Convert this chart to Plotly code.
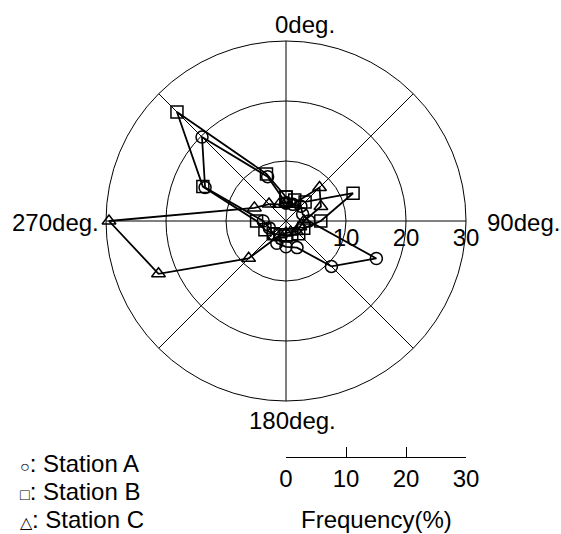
import plotly.graph_objects as go

# 16 wind directions (degrees, clockwise from north)
directions = [0, 22.5, 45, 67.5, 90, 112.5, 135, 157.5,
              180, 202.5, 225, 247.5, 270, 292.5, 315, 337.5]

# Frequency (%) per direction
station_a = [3.0, 3.0, 3.5, 3.0, 3.8, 16.3, 10.7, 4.8,
             4.3, 4.0, 3.0, 3.0, 3.8, 14.6, 19.8, 8.0]
station_b = [4.0, 3.8, 4.5, 12.1, 5.8, 3.2, 3.0, 2.5,
             2.5, 2.5, 3.0, 3.8, 4.9, 15.0, 25.7, 8.5]
station_c = [3.0, 3.0, 7.9, 6.3, 3.0, 2.5, 2.5, 2.0,
             2.0, 2.5, 8.8, 23.0, 29.5, 5.7, 4.0, 3.0]

series_names = ["Station A", "Station B", "Station C"]
series_symbols = ["circle-open", "square-open", "triangle-up-open"]
legend_glyphs = ["○", "□", "△"]

angle_ticks = [0, 45, 90, 135, 180, 225, 270, 315]
angle_labels = ["0deg.", "90deg.", "180deg.", "270deg."]
radial_ticks = [10, 20, 30]
scale_ticks = [0, 10, 20, 30]
scale_title = "Frequency(%)"

W, H = 561, 534
FONT = "Liberation Sans, Arial, sans-serif"


def px(X):
    return X / W


def py(Y):
    return 1 - Y / H


fig = go.Figure()

for name, vals, sym in zip(series_names, [station_a, station_b, station_c], series_symbols):
    fig.add_trace(go.Scatterpolar(
        r=vals + vals[:1],
        theta=directions + directions[:1],
        mode="lines+markers",
        name=name,
        line=dict(color="black", width=1.8),
        marker=dict(symbol=sym, size=12, color="black", line=dict(width=1.5, color="black")),
        showlegend=False,
    ))

# invisible trace so the frequency scale bar axis is drawn
fig.add_trace(go.Scatter(x=[scale_ticks[0], scale_ticks[-1]], y=[0, 0], mode="markers",
                         marker=dict(opacity=0), hoverinfo="skip", showlegend=False,
                         xaxis="x", yaxis="y"))

cx, cy, R = 286, 221, 180
bar_y = 457

fig.update_layout(
    width=W, height=H,
    margin=dict(l=0, r=0, t=0, b=0),
    paper_bgcolor="white", plot_bgcolor="white",
    font=dict(family=FONT, size=24, color="black"),
    polar=dict(
        domain=dict(x=[px(cx - R), px(cx + R)], y=[py(cy + R), py(cy - R)]),
        bgcolor="white",
        angularaxis=dict(direction="clockwise", rotation=90, tickvals=angle_ticks,
                         showticklabels=False, ticks="", gridcolor="black", gridwidth=1,
                         linecolor="black", linewidth=1, showline=True),
        radialaxis=dict(range=[0, radial_ticks[-1]], tickvals=radial_ticks, angle=0,
                        side="clockwise", showline=False, ticks="", gridcolor="black",
                        gridwidth=1, tickfont=dict(size=24, color="black")),
    ),
    xaxis=dict(domain=[px(cx), px(cx + R)], range=[scale_ticks[0], scale_ticks[-1]],
               tickvals=scale_ticks, ticks="inside", ticklen=10, tickwidth=1, tickcolor="black",
               showline=True, linecolor="black", linewidth=1, showgrid=False, zeroline=False,
               tickfont=dict(size=24), fixedrange=True, automargin=False),
    yaxis=dict(domain=[py(bar_y), py(bar_y - 10)], range=[0, 1], visible=False,
               fixedrange=True, automargin=False),
)

annotations = []
label_pos = [(273, 24), (485, 222), (247, 420), (10, 222)]
for txt, (x, y) in zip(angle_labels, label_pos):
    annotations.append(dict(text=txt, x=px(x), y=py(y), xref="paper", yref="paper",
                            xanchor="left", yanchor="middle", showarrow=False,
                            font=dict(size=24)))

for i, (g, name) in enumerate(zip(legend_glyphs, series_names)):
    y = 463 + i * 28
    annotations.append(dict(text=f"<span style='font-size:16px'>{g}</span>: {name}",
                            x=px(18), y=py(y), xref="paper", yref="paper",
                            xanchor="left", yanchor="middle", showarrow=False,
                            font=dict(size=24)))

annotations.append(dict(text=scale_title, x=px(cx + R / 2), y=py(519),
                        xref="paper", yref="paper", xanchor="center", yanchor="middle",
                        showarrow=False, font=dict(size=24)))
fig.update_layout(annotations=annotations)

fig.write_html("out.html")
